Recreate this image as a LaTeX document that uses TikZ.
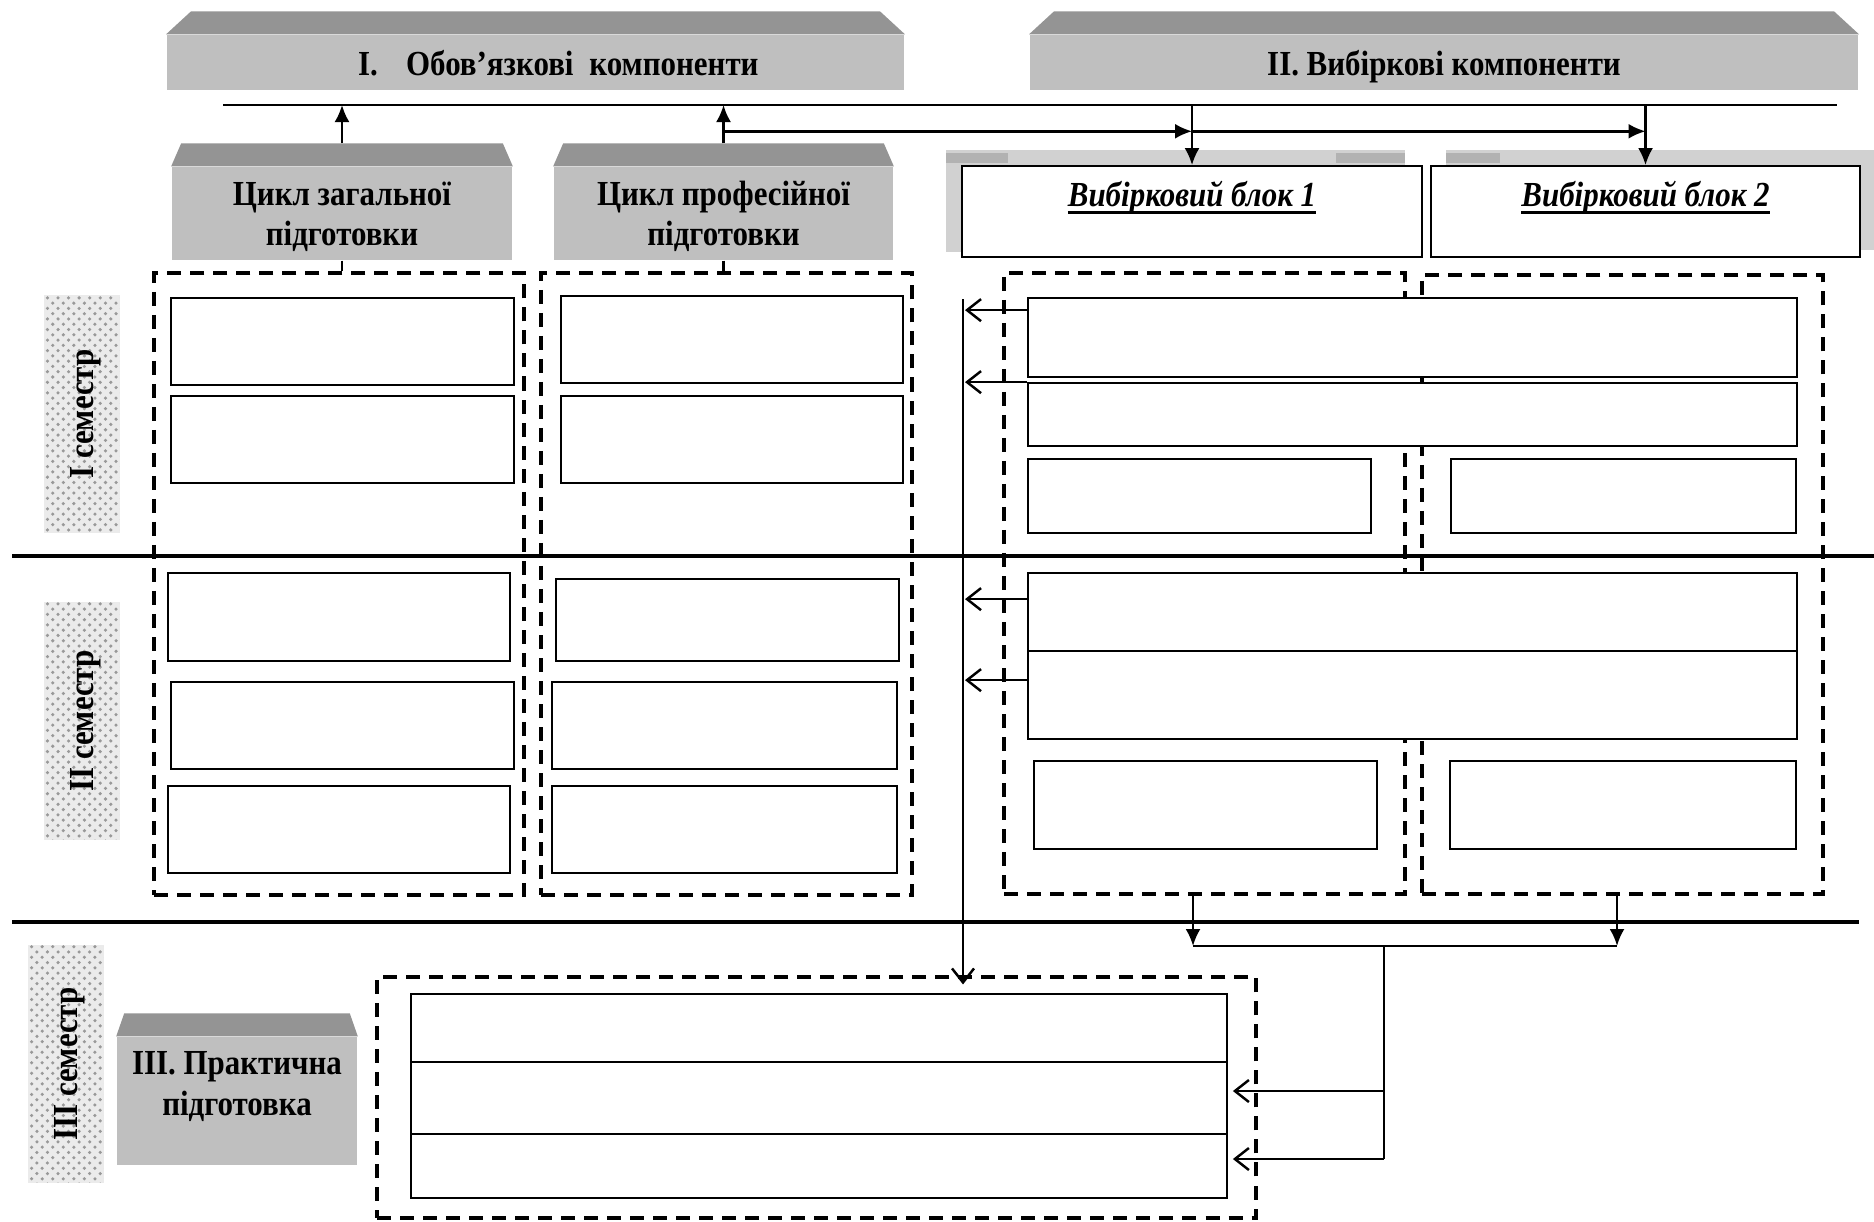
\documentclass[tikz,border=0pt]{standalone}
\usepackage{fontspec}
\setmainfont{Liberation Serif}[FakeStretch=0.88]
\usetikzlibrary{arrows.meta,calc,fit,patterns}
\newcommand\blockul[1]{\setbox0\hbox{#1}\leavevmode\rlap{\rule[-2.2pt]{\wd0}{0.9pt}}\box0}

\begin{document}
\begin{tikzpicture}[
  x=0.01cm, y=-0.01cm,
  every node/.style={font=\fontsize{10}{11.5}\selectfont\bfseries, align=center,
    inner sep=0pt, text depth=0pt},
  cell/.style={draw, line width=0.5pt, fill=white},
  frame/.style={draw, line width=0.9pt, dash pattern=on 1.4mm off 0.9mm},
  front/.style={fill=black!25},
  roofface/.style={fill=black!42},
  semester/.style={rotate=90, minimum width=2.37cm, minimum height=0.75cm,
    preaction={fill=black!8}, pattern=crosshatch dots, pattern color=black!40},
  sepline/.style={line width=1pt},
  link/.style={line width=0.7pt},
  tri/.style={link, -{Latex[length=1.7mm,width=1.5mm]}},
  barb/.style={link, -{Straight Barb[length=1.4mm,width=2.2mm]}}
]
\useasboundingbox (0,0) rectangle (1874,1221);

% remnants of the grey blocks behind the elective boxes
\fill[black!18] (946,150) rectangle (1405,166);
\fill[black!18] (946,150) rectangle (961,252);
\fill[black!18] (1446,150) rectangle (1874,166);
\fill[black!18] (1860,150) rectangle (1874,250);
\fill[black!30] (946,153) rectangle (1008,163);
\fill[black!30] (1336,153) rectangle (1405,163);
\fill[black!30] (1446,153) rectangle (1500,163);

% grey blocks
\node[front, minimum width=7.37cm, minimum height=0.55cm] (oblig) at (535.5,62.5)
  {\hspace{1.3em}I.\hspace{0.8em}Обов’язкові\hspace{0.45em}компоненти};
\node[front, minimum width=8.28cm, minimum height=0.55cm] (elect) at (1444,62.5)
  {II. Вибіркові компоненти};
\node[front, minimum width=3.40cm, minimum height=0.93cm] (cgen) at (342,213.5)
  {Цикл загальної\\підготовки};
\node[front, minimum width=3.39cm, minimum height=0.93cm] (cprof) at (723.5,213.5)
  {Цикл професійної\\підготовки};
\node[front, minimum width=2.40cm, minimum height=1.28cm, text depth=10pt] (prac) at (237,1101)
  {III. Практична\\підготовка};
\foreach \b/\i in {oblig/25, elect/25, cgen/10, cprof/10, prac/8}
  \fill[roofface] (\b.north west) -- ($(\b.north west)+(\i,-23)$)
    -- ($(\b.north east)+(-\i,-23)$) -- (\b.north east) -- cycle;

% elective blocks
\node[cell, minimum width=4.60cm, minimum height=0.91cm, text height=7pt, text depth=9.8pt]
  (vb1) at (1192,211.5) {\itshape\blockul{Вибірковий блок 1}};
\node[cell, minimum width=4.29cm, minimum height=0.91cm, text height=7pt, text depth=9.8pt]
  (vb2) at (1645.5,211.5) {\itshape\blockul{Вибірковий блок 2}};

% semesters
\node[semester] (sem1) at (82,414) {I семестр};
\node[semester] (sem2) at (82,721) {II семестр};
\node[semester] (sem3) at (66,1064) {III семестр};

% dashed frames
\node[frame, fit={(154,273)(524,895)}] (fgen) {};
\node[frame, fit={(541,273)(912,895)}] (fprof) {};
\node[frame, fit={(1004,273)(1405,894)}] (fb1) {};
\node[frame, fit={(1422,275)(1823,894)}] (fb2) {};
\node[frame, fit={(377,977)(1256,1218)}] (fprac) {};

% empty cells
\foreach \n/\xa/\ya/\xb/\yb in {
  g11/171/298/514/385, g12/171/396/514/483,
  p11/561/296/903/383, p12/561/396/903/483,
  g21/168/573/510/661, g22/171/682/514/769, g23/168/786/510/873,
  p21/556/579/899/661, p22/552/682/897/769, p23/552/786/897/873,
  r11/1028/298/1797/377, r12/1028/383/1797/446,
  e11/1028/459/1371/533, e12/1451/459/1796/533,
  r21/1028/573/1797/651, r22/1028/651/1797/739,
  e21/1034/761/1377/849, e22/1450/761/1796/849,
  q1/411/994/1227/1062, q2/411/1062/1227/1134, q3/411/1134/1227/1198}
  \node[cell, fit={(\xa,\ya)(\xb,\yb)}] (\n) {};

% semester borders
\draw[sepline] (12,556) -- (1874,556);
\draw[sepline] (12,922) -- (1859,922);

% top connectors
\coordinate (tl) at (223,105);
\coordinate (tr) at (1837,105);
\draw[link] (tl) -- (tr);
\draw[tri] ($(cgen.north)+(0,-23)$) -- (cgen.north |- tl);
\draw[tri] ($(cprof.north)+(0,-23)$) -- (cprof.north |- tl);
\coordinate (fork) at ($(cprof.north)+(0,-35)$);
\draw[tri] (fork) -- (fork -| vb1.north);
\draw[tri] (fork -| vb1.north) -- (fork -| vb2.north);
\draw[tri] (vb1.north |- tl) -- (vb1.north);
\draw[tri] (vb2.north |- tl) -- (vb2.north);
\draw[link] (cgen.south) -- (cgen.south |- fgen.north);
\draw[link] (cprof.south) -- (cprof.south |- fprof.north);

% elective disciplines to practice
\coordinate (vt) at (963,299);
\draw[barb] (vt) -- ($(vt |- fprac.north)+(0,9)$);
\foreach \c/\d in {r11/13, r12/0, r21/27, r22/30}
  \draw[barb] ($(\c.north west)+(0,\d)$) -- ($(\c.north west -| vt)+(2,\d)$);

% bottom connectors
\coordinate (j1) at (1193,946);
\coordinate (j2) at (1617,946);
\draw[tri] (j1 |- fb1.south) -- (j1);
\draw[tri] (j2 |- fb2.south) -- (j2);
\draw[link] (j1) -- (j2);
\coordinate (jm) at ($(j1)!0.45!(j2)$);
\draw[link] (jm) -- ($(jm |- q3.east)+(0,-7)$);
\draw[barb] ($(jm |- q2.east)+(0,-7)$) -- ($(q2.east)+(5,-7)$);
\draw[barb] ($(jm |- q3.east)+(0,-7)$) -- ($(q3.east)+(5,-7)$);
\end{tikzpicture}
\end{document}
